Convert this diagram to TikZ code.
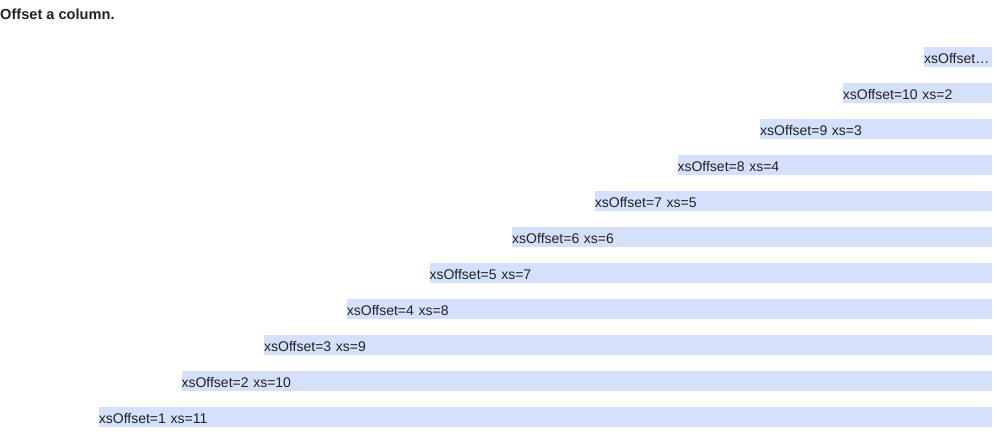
\documentclass[tikz,border=0pt]{standalone}
\usepackage{fontspec}
\setmainfont{Liberation Sans}
\usepackage{tikz}
\usetikzlibrary{positioning, calc}
\definecolor{barblue}{RGB}{212,224,252}
\definecolor{textgray}{RGB}{34,34,34}

\begin{document}
\begin{tikzpicture}[
        x=1pt, y=-1pt,
        bar/.style={rectangle, fill=barblue, draw=none, anchor=north west, inner xsep=0pt, inner ysep=0pt, minimum height=20pt, text height=13pt, text depth=0.5pt, align=left, text=textgray, font=\fontsize{14}{16}\selectfont},
        heading/.style={anchor=base west, inner sep=0pt, text=textgray, font=\fontsize{14.6}{16}\selectfont\bfseries}
    ]
        \useasboundingbox (0,0) rectangle (1008,436);
        \node[heading] (title) at (0,19.7) {Offset a column.};

        % one bar per offset, each ending at the right edge
        \foreach \k [evaluate=\k as \x using 16+82.67*\k,
                     evaluate=\k as \y using 407-36*(\k-1),
                     evaluate=\k as \w using 976-82.67*\k,
                     evaluate=\k as \s using int(12-\k)] in {1,...,10}
            \node[bar, text width=\w pt] (row\k) at (\x,\y) {xsOffset=\k\ xs=\s};

        \node[bar, text width=68pt] (row11) at (924,47) {xsOffset…};
    \end{tikzpicture}
\end{document}
